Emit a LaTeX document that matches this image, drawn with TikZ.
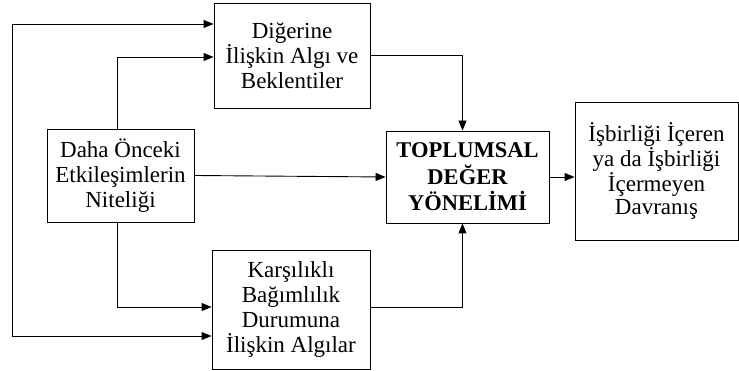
\documentclass[tikz,border=0pt]{standalone}
\usepackage{fontspec}
\setmainfont{Liberation Serif}
\usetikzlibrary{arrows.meta}
\begin{document}
\begin{tikzpicture}[x=1pt,y=1pt,
  box/.style={draw, line width=0.9pt, rectangle, align=center, inner sep=0pt,
    font=\fontsize{23}{25}\selectfont},
  arr/.style={line width=0.9pt, -{Triangle[length=10pt,width=8pt]}},
  ln/.style={line width=0.9pt}]
\useasboundingbox (0,0) rectangle (739,371);
\node[box, minimum width=156, minimum height=105] (A) at (292,315.5) {Diğerine\\İlişkin Algı ve\\Beklentiler};
\node[box, minimum width=147, minimum height=93] (B) at (120.5,195.5) {Daha Önceki\\Etkileşimlerin\\Niteliği};
\node[box, minimum width=163, minimum height=92, font=\fontsize{22.5}{26.5}\selectfont\bfseries] (C) at (467.5,194) {TOPLUMSAL\\DEĞER\\YÖNELİMİ};
\node[box, minimum width=158, minimum height=119] (D) at (291,61.5) {Karşılıklı\\Bağımlılık\\Durumuna\\İlişkin Algılar};
\node[box, minimum width=163, minimum height=138, font=\fontsize{23}{23.5}\selectfont] (E) at (656.5,200) {İşbirliği İçeren\\ya da İşbirliği\\İçermeyen\\Davranış};
\coordinate (loop) at (12,200);
% A -> C
\draw[arr] (A.east) -| ([xshift=-5pt]C.north);
% B -> A
\draw[arr] ([xshift=-3.5pt]B.north) |- ([yshift=-1.5pt]A.west);
% B -> D
\draw[arr] ([xshift=-3.5pt]B.south) |- ([yshift=2.5pt]D.west);
% B -> C
\draw[arr] (B.east) -- (C.west);
% D -> C
\draw[arr] ([yshift=2.5pt]D.east) -| ([xshift=-5pt]C.south);
% C -> E
\draw[arr] (C.east) -- (C.east -| E.west);
% outer loop
\draw[arr] (loop) |- ([yshift=31.5pt]A.west);
\draw[arr] (loop) |- ([yshift=-26.5pt]D.west);
\end{tikzpicture}
\end{document}
